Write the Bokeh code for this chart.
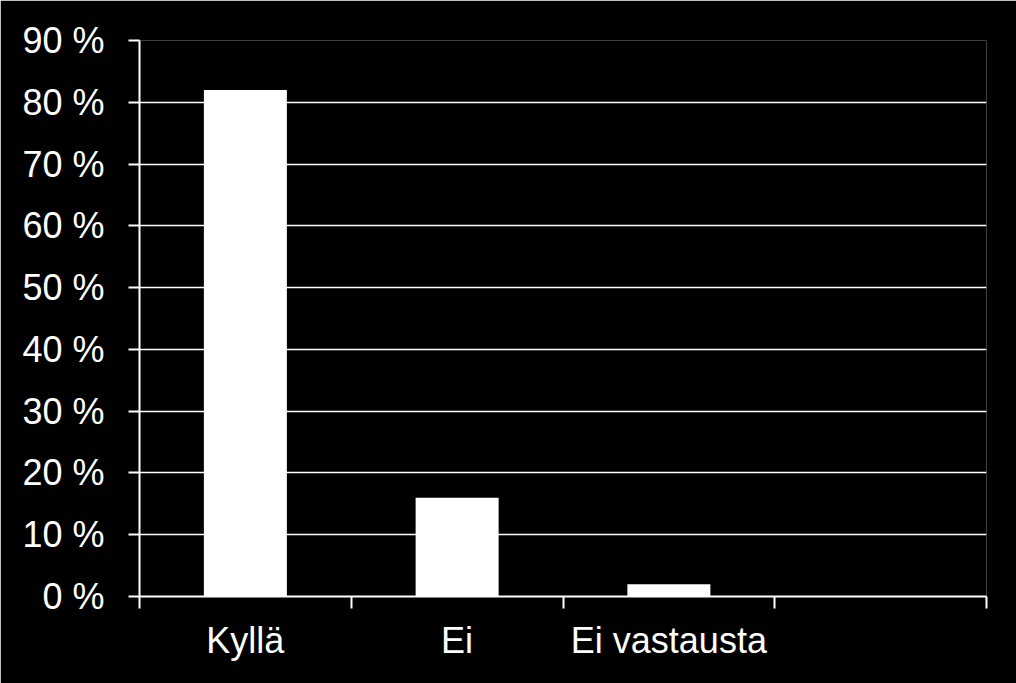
from bokeh.plotting import figure
from bokeh.models import FixedTicker, Range1d, ColumnDataSource
from bokeh.embed import file_html
from bokeh.resources import INLINE

categories = ["Kyllä", "Ei", "Ei vastausta"]
values = [82, 16, 2]
y_ticks = [0, 10, 20, 30, 40, 50, 60, 70, 80, 90]
y_tick_labels = [f"{t} %" for t in y_ticks]

x_pos = [i + 0.5 for i in range(len(categories))]
src = ColumnDataSource(dict(x=x_pos, top=values))

p = figure(frame_width=847, frame_height=556, width=1016, height=683,
           output_backend="svg", toolbar_location=None,
           x_range=Range1d(0, 4), y_range=Range1d(0, 90),
           min_border_left=139, min_border_top=40, min_border_right=30, min_border_bottom=87)
p.background_fill_color = "black"
p.border_fill_color = "black"
p.outline_line_color = None

p.vbar(x="x", top="top", width=0.392, bottom=0, source=src,
       fill_color="white", line_color=None)

# x axis
p.xaxis.ticker = FixedTicker(ticks=x_pos, minor_ticks=[0, 1, 2, 3, 4])
p.xaxis.major_label_overrides = {x: c for x, c in zip(x_pos, categories)}
p.xaxis.major_tick_out = 0
p.xaxis.major_tick_in = 0
p.xaxis.minor_tick_out = 12
p.xaxis.minor_tick_in = 0
p.xaxis.minor_tick_line_color = "white"
p.xaxis.minor_tick_line_width = 2
p.xaxis.axis_line_color = "white"
p.xaxis.axis_line_width = 2
p.xaxis.major_label_text_color = "white"
p.xaxis.major_label_text_font = "Liberation Sans"
p.xaxis.major_label_text_font_size = "36px"
p.xaxis.major_label_standoff = 11

# y axis
p.yaxis.ticker = FixedTicker(ticks=y_ticks, minor_ticks=[])
p.yaxis.major_label_overrides = {t: l for t, l in zip(y_ticks, y_tick_labels)}
p.yaxis.major_tick_out = 11
p.yaxis.major_tick_in = 0
p.yaxis.major_tick_line_color = "white"
p.yaxis.major_tick_line_width = 2
p.yaxis.axis_line_color = "white"
p.yaxis.axis_line_width = 2
p.yaxis.major_label_text_color = "white"
p.yaxis.major_label_text_font = "Liberation Sans"
p.yaxis.major_label_text_font_size = "36px"
p.yaxis.major_label_standoff = 24

p.xgrid.grid_line_color = None
p.ygrid.grid_line_color = "white"
p.ygrid.grid_line_width = 1.5
p.ygrid.grid_line_alpha = 1.0

html = file_html(p, INLINE)
html = html.replace("<body>", '<body style="background-color:black;margin:0;overflow:hidden">', 1)
open("out.html", "w").write(html)
